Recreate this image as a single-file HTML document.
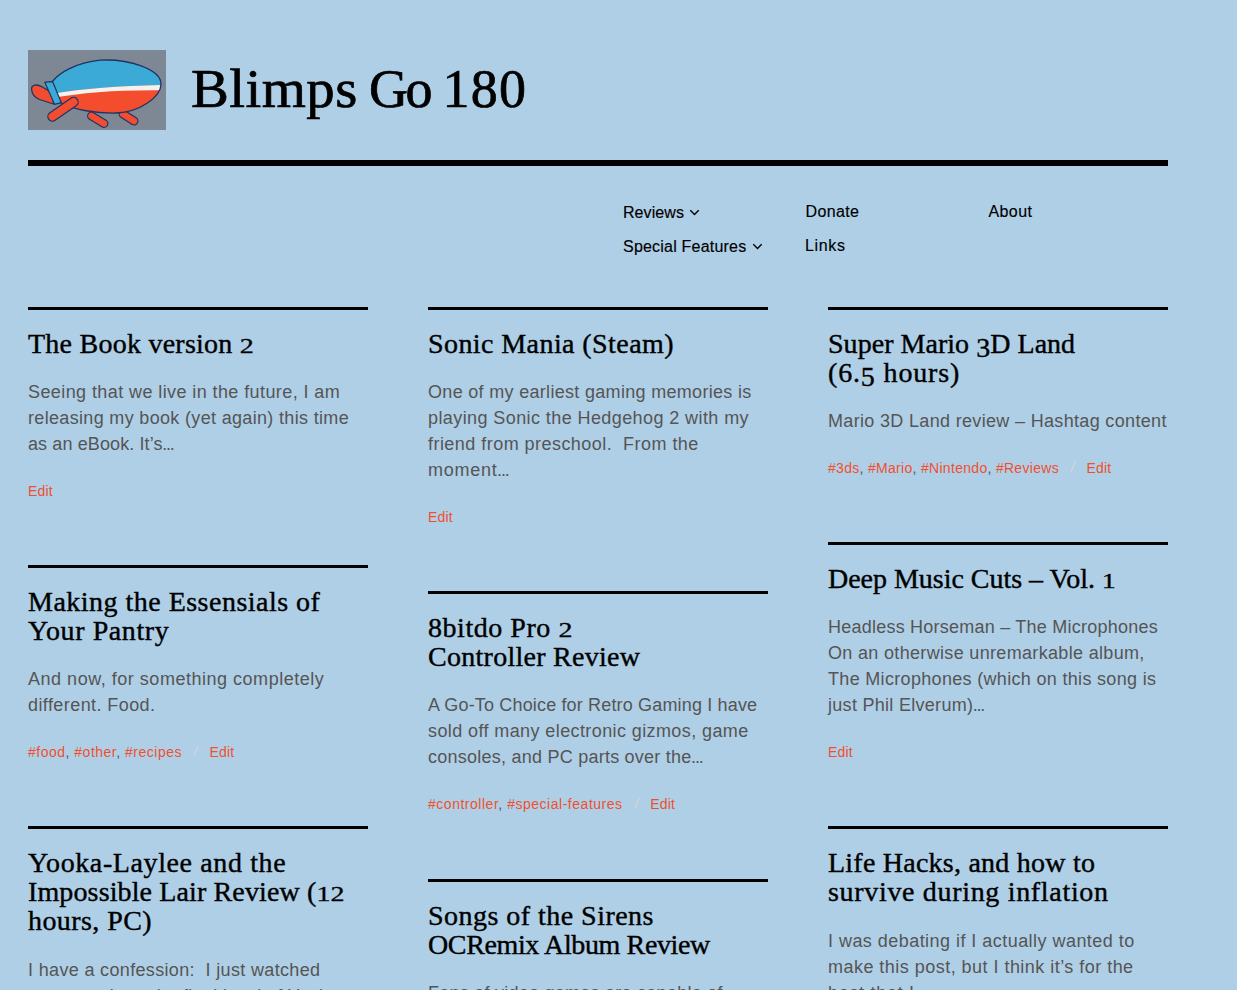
<!DOCTYPE html>
<html>
<head>
<meta charset="utf-8">
<style>
html,body{margin:0;padding:0;}
body{background:#afcfe6;width:1237px;height:990px;overflow:hidden;position:relative;font-family:"Liberation Sans",sans-serif;color:#555;}
.logo{position:absolute;left:28px;top:50px;width:138px;height:80px;}
.title{position:absolute;left:191px;top:57px;font-family:"Liberation Serif",serif;font-size:54px;line-height:64px;letter-spacing:0.4px;-webkit-text-stroke:0.7px #000;color:#000;white-space:nowrap;}
.tw{position:absolute;top:0;display:inline-block;}
.rule{position:absolute;left:28px;top:160px;width:1140px;height:6px;background:#000;}
.nav{position:absolute;font-size:16px;line-height:20px;color:#000;white-space:nowrap;-webkit-text-stroke:0.15px #000;}
.chv{position:absolute;}
.chev{display:inline-block;width:6px;height:6px;border-right:1.3px solid #000;border-bottom:1.3px solid #000;transform:rotate(45deg);margin-left:7px;position:relative;top:-4px;}
.post{position:absolute;width:340px;border-top:3px solid #000;}
.post h2{margin:18.5px 0 0 0;font-family:"Liberation Serif",serif;font-weight:normal;font-size:28px;line-height:29px;color:#000;letter-spacing:0.15px;white-space:nowrap;-webkit-text-stroke:0.4px #000;}
.post p{margin:21.7px 0 0 0;font-size:18px;line-height:26px;letter-spacing:0.34px;color:#555;white-space:nowrap;}
.post .ft{margin:23.9px 0 0 0;font-size:14px;line-height:20px;letter-spacing:0.2px;color:#ef4f30;white-space:nowrap;}
.ft .c{color:#555;}
.ft .s{display:inline-block;width:6px;height:12px;margin:0 10px 0 11.5px;vertical-align:0.5px;}
.ox{display:inline-block;line-height:1;transform:scaleY(0.76);transform-origin:50% 83.75%;}
.od{position:relative;top:4px;}
.el{letter-spacing:-1.2px;margin-left:-0.5px;}
</style>
</head>
<body>
<svg class="logo" viewBox="0 0 138 80" width="138" height="80">
  <rect x="0" y="0" width="138" height="80" fill="#7e8794"/>
  <g stroke-linecap="round" stroke-linejoin="round">
    <path d="M3.6,39.5 C3,34.5 9,33.8 14,36.8 L25,43.5 L25.5,54 L11.5,49.5 C6.5,47.5 4,44 3.6,39.5 Z" fill="#f24d31" stroke="#1d3566" stroke-width="1.3"/>
    <line x1="63.5" y1="66" x2="76" y2="73.5" stroke="#1d3566" stroke-width="9"/>
    <line x1="63.5" y1="66" x2="76" y2="73.5" stroke="#f24d31" stroke-width="6.6"/>
    <line x1="95" y1="64" x2="106" y2="71" stroke="#1d3566" stroke-width="9"/>
    <line x1="95" y1="64" x2="106" y2="71" stroke="#f24d31" stroke-width="6.6"/>
    <clipPath id="bc"><path d="M24.3,31.5 C32,22 48,13 72,10.2 C100,8.5 133,19 133,34 C133,47 112,62 88,63 C70,63.5 45,60 32.3,52.5 Z"/></clipPath>
    <g clip-path="url(#bc)">
      <rect x="20" y="0" width="120" height="80" fill="#3caad7"/>
      <path d="M20,44.5 Q70,36 140,35 L140,90 L20,90 Z" fill="#f44d2e"/>
      <path d="M20,44.5 Q70,36 140,35 L140,40.3 Q70,39 20,48.8 Z" fill="#f4f2ee"/>
    </g>
    <path d="M24.3,31.5 C32,22 48,13 72,10.2 C100,8.5 133,19 133,34 C133,47 112,62 88,63 C70,63.5 45,60 32.3,52.5" fill="none" stroke="#1d3566" stroke-width="1.3"/>
    <polygon points="16.8,32.2 24.6,31.6 33.2,52.6 26.6,54.4" fill="#3caad7" stroke="#1d3566" stroke-width="1.2"/>
    <line x1="24.5" y1="66.5" x2="45.5" y2="52" stroke="#1d3566" stroke-width="10.5"/>
    <line x1="24.5" y1="66.5" x2="45.5" y2="52" stroke="#f24d31" stroke-width="8"/>
  </g>
</svg>
<div class="title"><span class="tw" style="left:0;letter-spacing:0.4px;transform:scaleX(1.052);transform-origin:0 0;">Blimps</span><span class="tw" style="left:178px;letter-spacing:-2.4px;">Go</span><span class="tw" style="left:251.5px;letter-spacing:1.3px;">180</span></div>
<div class="rule"></div>

<div class="nav" style="left:623px;top:203px;letter-spacing:0.07px;">Reviews</div>
<svg class="chv" style="left:689px;top:209px;" width="11" height="7" viewBox="0 0 11 7"><polyline points="1.3,1.3 5.5,5.5 9.7,1.2" fill="none" stroke="#000" stroke-width="1.4"/></svg>
<div class="nav" style="left:623px;top:237px;letter-spacing:0.21px;">Special Features</div>
<svg class="chv" style="left:751.5px;top:243px;" width="11" height="7" viewBox="0 0 11 7"><polyline points="1.3,1.3 5.5,5.5 9.7,1.2" fill="none" stroke="#000" stroke-width="1.4"/></svg>
<div class="nav" style="left:805.5px;top:202px;letter-spacing:0.36px;">Donate</div>
<div class="nav" style="left:805px;top:236px;letter-spacing:0.67px;">Links</div>
<div class="nav" style="left:988.5px;top:202px;letter-spacing:0.4px;">About</div>

<div class="post" style="left:28px;top:307px;">
  <h2><span style="letter-spacing:0.244px">The Book version <span class="ox">2</span></span></h2>
  <p><span style="letter-spacing:0.410px">Seeing that we live in the future, I am</span><br><span style="letter-spacing:0.330px">releasing my book (yet again) this time</span><br><span style="letter-spacing:0.110px">as an eBook. It’s<span class="el">...</span></span></p>
  <div class="ft">Edit</div>
</div>
<div class="post" style="left:28px;top:565px;">
  <h2><span style="letter-spacing:0.485px">Making the Essensials of</span><br><span style="letter-spacing:0.590px">Your Pantry</span></h2>
  <p><span style="letter-spacing:0.520px">And now, for something completely</span><br><span style="letter-spacing:0.420px">different. Food.</span></p>
  <div class="ft"><span style="letter-spacing:0.50px">#food<span class="c">,</span> #other<span class="c">,</span> #recipes</span><svg class="s" width="6" height="12" viewBox="0 0 6 12"><line x1="0.8" y1="11.6" x2="5.2" y2="0.4" stroke="#d0d3d9" stroke-width="1.4"/></svg>Edit</div>
</div>
<div class="post" style="left:28px;top:826px;">
  <h2 style="margin-top:19.4px"><span style="letter-spacing:0.610px">Yooka-Laylee and the</span><br><span style="letter-spacing:0.126px">Impossible Lair Review (<span class="ox">1</span><span class="ox">2</span></span><br><span style="letter-spacing:0.420px">hours, PC)</span></h2>
  <p><span style="letter-spacing:0.340px">I have a confession: &nbsp;I just watched</span><br><span style="letter-spacing:0.340px">someone beat the final level of Yooka</span></p>
</div>
<div class="post" style="left:428px;top:307px;">
  <h2><span style="letter-spacing:0.420px">Sonic Mania (Steam)</span></h2>
  <p><span style="letter-spacing:0.310px">One of my earliest gaming memories is</span><br><span style="letter-spacing:0.410px">playing Sonic the Hedgehog 2 with my</span><br><span style="letter-spacing:0.460px">friend from preschool. &nbsp;From the</span><br><span style="letter-spacing:0.760px">moment<span class="el">...</span></span></p>
  <div class="ft">Edit</div>
</div>
<div class="post" style="left:428px;top:591px;">
  <h2><span style="letter-spacing:0.540px">8bitdo Pro <span class="ox">2</span></span><br><span style="letter-spacing:0.270px">Controller Review</span></h2>
  <p><span style="letter-spacing:0.160px">A Go-To Choice for Retro Gaming I have</span><br><span style="letter-spacing:0.400px">sold off many electronic gizmos, game</span><br><span style="letter-spacing:0.240px">consoles, and PC parts over the<span class="el">...</span></span></p>
  <div class="ft"><span style="letter-spacing:0.52px">#controller<span class="c">,</span> #special-features</span><svg class="s" width="6" height="12" viewBox="0 0 6 12"><line x1="0.8" y1="11.6" x2="5.2" y2="0.4" stroke="#d0d3d9" stroke-width="1.4"/></svg>Edit</div>
</div>
<div class="post" style="left:428px;top:879px;">
  <h2><span style="letter-spacing:0.470px">Songs of the Sirens</span><br><span style="letter-spacing:-0.370px">OCRemix Album Review</span></h2>
  <p><span style="letter-spacing:0.250px">Fans of video games are capable of</span></p>
</div>
<div class="post" style="left:828px;top:307px;">
  <h2><span style="letter-spacing:0.033px">Super Mario <span class="od">3</span>D Land</span><br><span style="letter-spacing:0.840px">(6.<span class="od">5</span> hours)</span></h2>
  <p><span style="letter-spacing:0.330px">Mario 3D Land review – Hashtag content</span></p>
  <div class="ft"><span style="letter-spacing:0.30px">#3ds<span class="c">,</span> #Mario<span class="c">,</span> #Nintendo<span class="c">,</span> #Reviews</span><svg class="s" width="6" height="12" viewBox="0 0 6 12"><line x1="0.8" y1="11.6" x2="5.2" y2="0.4" stroke="#d0d3d9" stroke-width="1.4"/></svg>Edit</div>
</div>
<div class="post" style="left:828px;top:542px;">
  <h2><span style="letter-spacing:-0.020px">Deep Music Cuts – Vol. <span class="ox">1</span></span></h2>
  <p><span style="letter-spacing:0.230px">Headless Horseman – The Microphones</span><br><span style="letter-spacing:0.330px">On an otherwise unremarkable album,</span><br><span style="letter-spacing:0.320px">The Microphones (which on this song is</span><br><span style="letter-spacing:0.290px">just Phil Elverum)<span class="el">...</span></span></p>
  <div class="ft">Edit</div>
</div>
<div class="post" style="left:828px;top:826px;">
  <h2 style="margin-top:19.4px"><span style="letter-spacing:0.236px">Life Hacks, and how to</span><br><span style="letter-spacing:0.680px">survive during inflation</span></h2>
  <p><span style="letter-spacing:0.460px">I was debating if I actually wanted to</span><br><span style="letter-spacing:0.470px">make this post, but I think it’s for the</span><br><span style="letter-spacing:0.700px">best that I<span class="el">...</span></span></p>
</div>
</body>
</html>
